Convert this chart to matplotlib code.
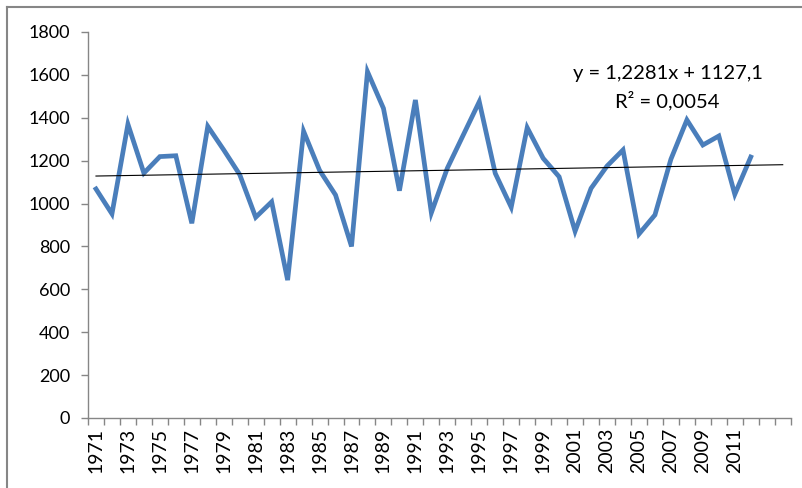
import numpy as np
import matplotlib.pyplot as plt
from matplotlib.lines import Line2D

# --------------------------
# Dados
# --------------------------
anos = list(range(1971, 2013))
valores = [1068, 952, 1370, 1142, 1219, 1223, 908, 1360, 1250, 1135,
           936, 1008, 643, 1337, 1155, 1040, 800, 1615, 1444, 1060,
           1483, 957, 1165, 1320, 1475, 1141, 983, 1354, 1211, 1125,
           871, 1071, 1175, 1250, 858, 947, 1207, 1390, 1273, 1315,
           1043, 1217]
n_categorias = 44          # eixo vai até 2014 (células vazias)
rotulos_anos = list(range(1971, 2012, 2))

# linha de tendência (equação do gráfico)
inclinacao = 1.2281
intercepto = 1127.1
texto_eq = "y = 1,2281x + 1127,1"
texto_r2 = "R² = 0,0054"

plt.rcParams['font.family'] = ['Lato', 'DejaVu Sans']
AZUL = "#4A7EBB"
CINZA = "#868686"

fig = plt.figure(figsize=(8.03, 4.88), dpi=100)
ax = fig.add_axes([88 / 803, 70 / 488, 702.7 / 803, 386 / 488])

x = np.arange(1, len(valores) + 1)
ax.plot(x, valores, color=AZUL, lw=3.4, solid_joinstyle='miter', zorder=3)

xt = np.array([1, n_categorias])
ax.plot(xt, inclinacao * xt + intercepto, color="black", lw=0.8, zorder=4)

ax.text(36.8, 1605, texto_eq, ha='center', va='center', fontsize=14.5)
ax.text(36.8, 1480, texto_r2, ha='center', va='center', fontsize=14.5)

ax.set_xlim(0.5, n_categorias + 0.5)
ax.set_ylim(0, 1800)
ax.set_yticks(range(0, 1801, 200))

pos_rotulos = [a - 1970 for a in rotulos_anos]
ax.set_xticks(pos_rotulos)
ax.set_xticklabels([str(a) for a in rotulos_anos], rotation=90, fontsize=14)
ax.set_xticks(np.arange(0.5, n_categorias + 1), minor=True)
ax.tick_params(axis='x', which='major', length=0, pad=7)
ax.tick_params(axis='x', which='minor', length=5, width=1, color=CINZA)
ax.tick_params(axis='y', length=5, width=1, color=CINZA, labelsize=13, pad=8)

for lado in ['top', 'right']:
    ax.spines[lado].set_visible(False)
for lado in ['left', 'bottom']:
    ax.spines[lado].set_color(CINZA)
    ax.spines[lado].set_linewidth(1)

# borda da área do gráfico (só esquerda e topo aparecem)
fig.add_artist(Line2D([7 / 803, 7 / 803], [0, 1 - 7 / 488], color=CINZA, lw=1.5,
                      transform=fig.transFigure))
fig.add_artist(Line2D([7 / 803, 1], [1 - 7 / 488, 1 - 7 / 488], color=CINZA, lw=1.5,
                      transform=fig.transFigure))

fig.savefig("out.png", dpi=100)
